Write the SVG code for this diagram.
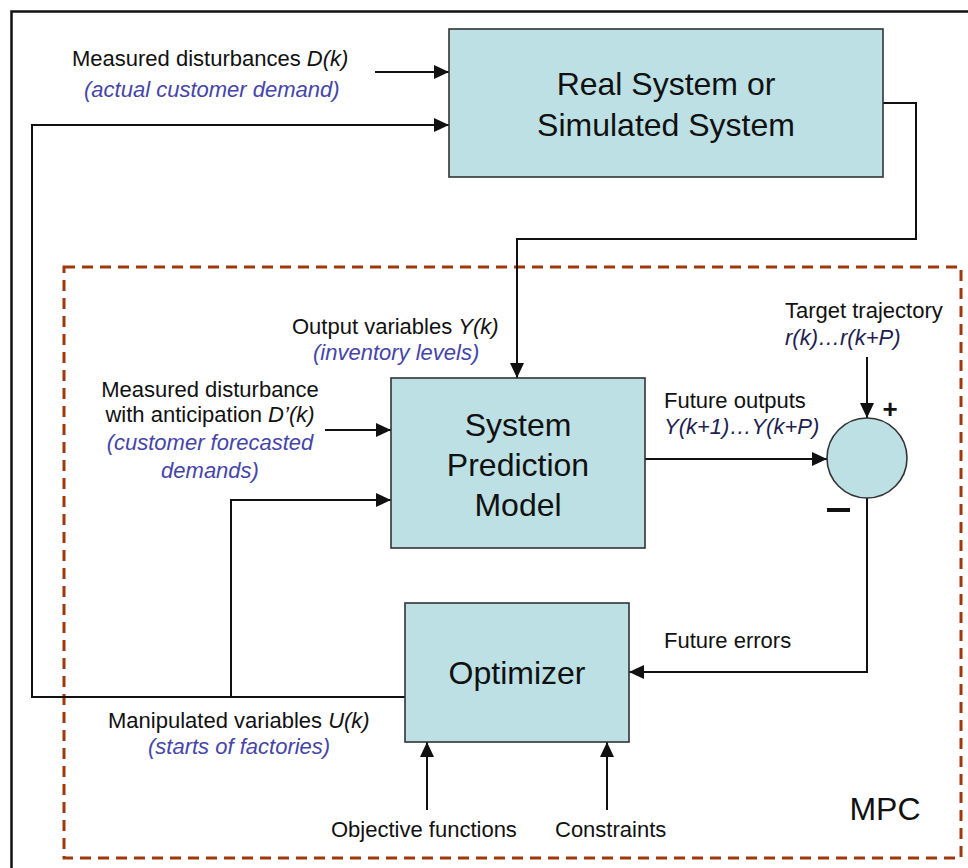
<svg xmlns="http://www.w3.org/2000/svg" width="968" height="868" viewBox="0 0 968 868">
<style>
.box{fill:#BCE0E3;stroke:#333;stroke-width:1.6}
.big{font-family:"Liberation Sans",Arial,sans-serif;font-size:32px;fill:#111;text-anchor:middle}
.lbl{font-family:"Liberation Sans",Arial,sans-serif;font-size:22px;fill:#111}
.blue{font-family:"Liberation Sans",Arial,sans-serif;font-size:22px;fill:#4545A8;font-style:italic}
.it{font-style:italic}
.navy{fill:#1E1E50}
.c{text-anchor:middle}
.conn{fill:none;stroke:#111;stroke-width:2}
</style>
<defs>
<marker id="ah" markerUnits="userSpaceOnUse" markerWidth="16" markerHeight="14" refX="15" refY="7" orient="auto">
<path d="M0,0 L15,7 L0,14 z" fill="#111"/>
</marker>
</defs>
<rect x="0" y="0" width="968" height="868" fill="#fff"/>
<rect x="11.5" y="11.5" width="980" height="880" fill="none" stroke="#111" stroke-width="2.5"/>
<g id="mpc">
<rect x="64" y="267" width="897" height="591" fill="none" stroke="#A0380A" stroke-width="3" stroke-dasharray="11,7"/>
<text class="big" x="885" y="820">MPC</text>
</g>
<g id="connectors">
<path class="conn" d="M375,72 H449" marker-end="url(#ah)"/>
<path class="conn" d="M405,697 H32 V125 H449" marker-end="url(#ah)"/>
<path class="conn" d="M231,697 V500 H391" marker-end="url(#ah)"/>
<path class="conn" d="M883,103 H916 V239 H517 V378" marker-end="url(#ah)"/>
<path class="conn" d="M325,430 H391" marker-end="url(#ah)"/>
<path class="conn" d="M645,459 H827" marker-end="url(#ah)"/>
<path class="conn" d="M867,357 V418" marker-end="url(#ah)"/>
<path class="conn" d="M867,498 V672 H629" marker-end="url(#ah)"/>
<path class="conn" d="M427,810 V742" marker-end="url(#ah)"/>
<path class="conn" d="M607,810 V742" marker-end="url(#ah)"/>
</g>
<g id="real-system">
<rect class="box" x="449" y="29" width="434" height="148"/>
<text class="big" x="666" y="95">Real System or</text>
<text class="big" x="666" y="136">Simulated System</text>
</g>
<g id="prediction-model">
<rect class="box" x="391" y="378" width="254" height="170"/>
<text class="big" x="518" y="436">System</text>
<text class="big" x="518" y="476">Prediction</text>
<text class="big" x="518" y="516">Model</text>
</g>
<g id="comparator">
<circle class="box" cx="867" cy="458" r="40"/>
<text class="lbl" x="890" y="418" style="font-size:26px;font-weight:bold" text-anchor="middle">+</text>
<rect x="827" y="508" width="23" height="4" fill="#111"/>
</g>
<g id="optimizer">
<rect class="box" x="405" y="603" width="224" height="139"/>
<text class="big" x="517" y="684">Optimizer</text>
</g>
<g id="labels">
<text class="lbl" x="72" y="66">Measured disturbances <tspan class="it">D(k)</tspan></text>
<text class="blue" x="84" y="97">(actual customer demand)</text>
<text class="lbl" x="292" y="334">Output variables <tspan class="it">Y(k)</tspan></text>
<text class="blue" x="313" y="360">(inventory levels)</text>
<text class="lbl c" x="210" y="397">Measured disturbance</text>
<text class="lbl c" x="210" y="422">with anticipation <tspan class="it">D’(k)</tspan></text>
<text class="blue c" x="210" y="450">(customer forecasted</text>
<text class="blue c" x="210" y="478">demands)</text>
<text class="lbl" x="664" y="408">Future outputs</text>
<text class="lbl it navy" x="664" y="434">Y(k+1)…Y(k+P)</text>
<text class="lbl" x="785" y="318">Target trajectory</text>
<text class="lbl it navy" x="785" y="345">r(k)…r(k+P)</text>
<text class="lbl" x="664" y="648">Future errors</text>
<text class="lbl" x="108" y="728">Manipulated variables <tspan class="it">U(k)</tspan></text>
<text class="blue" x="148" y="754">(starts of factories)</text>
<text class="lbl" x="331" y="837">Objective functions</text>
<text class="lbl" x="555" y="837">Constraints</text>
</g>
</svg>
